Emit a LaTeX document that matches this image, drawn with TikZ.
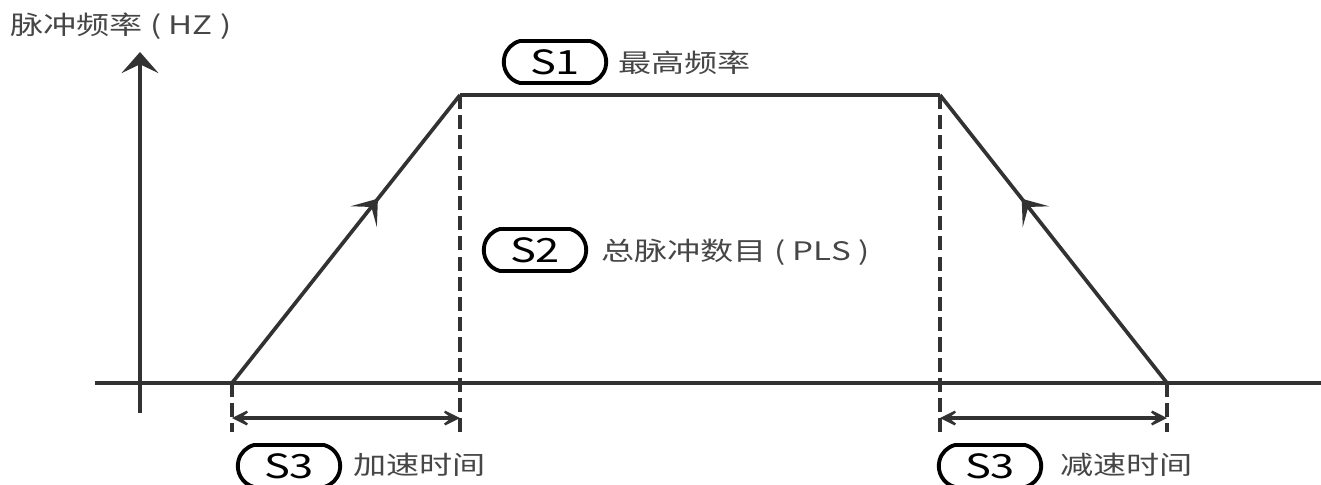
\documentclass[tikz,border=0pt]{standalone}
\usepackage{fontspec}
\newfontfamily\cjk[FakeStretch=1.3]{Noto Sans CJK SC}
\usetikzlibrary{arrows.meta,shapes.misc,decorations.markings}

\begin{document}
\begin{tikzpicture}[x=0.02cm,y=-0.02cm,
    courbe/.style={draw=trait, line width=2.1pt},
    tirets/.style={draw=trait, line width=2.3pt, dash pattern=on 8pt off 3.5pt},
    pastille/.style={rounded rectangle, rounded rectangle arc length=150, draw=black,
      line width=2.2pt, inner sep=0pt, minimum width=2.05cm, minimum height=0.84cm,
      font=\cjk\fontsize{19}{19}\selectfont},
    legende/.style={anchor=west, inner sep=0pt, text=texte, font=\cjk\fontsize{14.5}{14.5}\selectfont},
    pointe/.tip={Stealth[length=14pt, width=14pt, inset=9pt]},
    milieu/.style={postaction=decorate, decoration={markings,
      mark=at position 0.64 with {\arrow{Stealth[length=13pt, width=19pt, inset=7pt]}}}}]
  \definecolor{trait}{RGB}{50,50,50}
  \definecolor{texte}{RGB}{70,70,70}
  \useasboundingbox (0,0) rectangle (1321,484);
  % axes
  \coordinate (yb) at (140,413);
  \coordinate (yh) at (140,52);
  \coordinate (xg) at (95,383);
  \coordinate (xd) at (1321,383);
  \draw[courbe, -{Stealth[length=12pt, width=21pt, inset=5pt]}] (yb) -- (yh);
  \draw[courbe] (xg) -- (xd);
  % trapeze
  \coordinate (a) at (232,383);
  \coordinate (b) at (460,95);
  \coordinate (c) at (940,95);
  \coordinate (d) at (1167,383);
  \draw[courbe, milieu] (a) -- (b);
  \draw[courbe] (b) -- (c);
  \draw[courbe, milieu] (d) -- (c);
  % reperes
  \coordinate (a2) at (232,432);
  \coordinate (b2) at (460,432);
  \coordinate (c2) at (940,432);
  \coordinate (d2) at (1167,432);
  \draw[tirets] (a) -- (a2);
  \draw[tirets] (b) -- (b2);
  \draw[tirets] (c) -- (c2);
  \draw[tirets] (d) -- (d2);
  \coordinate (fa) at (232,418);
  \coordinate (fb) at (460,418);
  \coordinate (fc) at (940,418);
  \coordinate (fd) at (1167,418);
  \draw[courbe, pointe-pointe] (fa) -- (fb);
  \draw[courbe, pointe-pointe] (fc) -- (fd);
  % textes
  \node[legende] (titre) at (10,26) {脉冲频率 ( HZ )};
  \node[pastille] (s1) at (555,62) {S1};
  \node[legende] (freq) at (618,63) {最高频率};
  \node[pastille] (s2) at (535,250) {S2};
  \node[legende] (total) at (601,252) {总脉冲数目 ( PLS )};
  \node[pastille] (s3a) at (289,466) {S3};
  \node[legende] (acc) at (353,465) {加速时间};
  \node[pastille] (s3b) at (990,466) {S3};
  \node[legende] (dec) at (1060,465) {减速时间};
\end{tikzpicture}
\end{document}
